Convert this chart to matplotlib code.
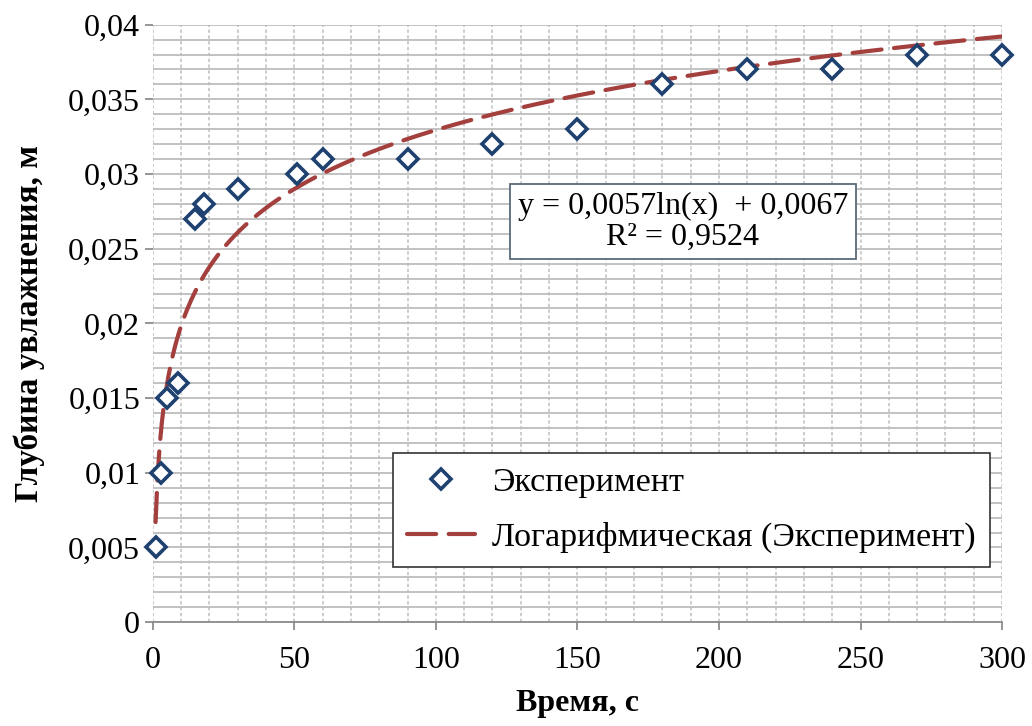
import numpy as np
import matplotlib
matplotlib.use("Agg")
import matplotlib.pyplot as plt
from matplotlib.ticker import MultipleLocator, FuncFormatter

# data
time_s = [1, 3, 5, 9, 15, 18, 30, 51, 60, 90, 120, 150, 180, 210, 240, 270, 300]
depth_m = [0.005, 0.010, 0.015, 0.016, 0.027, 0.028, 0.029, 0.030, 0.031, 0.031,
           0.032, 0.033, 0.036, 0.037, 0.037, 0.038, 0.038]
# trend line coefficients (from the equation shown on the chart)
fit_a = 0.0057
fit_b = 0.0067
fit_r2 = 0.9524

plt.rcParams['font.family'] = ['Liberation Serif', 'DejaVu Serif']

fig = plt.figure(figsize=(10.32, 7.26), dpi=100)
ax = fig.add_axes([0.148, 0.143, 0.823, 0.823])

xt = np.linspace(1, 300, 400)
yt = fit_a * np.log(xt) + fit_b
ax.plot(xt, yt, color='#A3403E', lw=3, dashes=(7, 3), dash_capstyle='round',
        label='Логарифмическая (Эксперимент)', zorder=3)
ax.plot(time_s, depth_m, linestyle='none', marker='D', markersize=10.5,
        markerfacecolor='white', markeredgecolor='#1F4170', markeredgewidth=2.6,
        label='Эксперимент', zorder=4, clip_on=False)

ax.set_xlim(0, 300)
ax.set_ylim(0, 0.04)
ax.xaxis.set_major_locator(MultipleLocator(50))
ax.xaxis.set_minor_locator(MultipleLocator(10))
ax.yaxis.set_major_locator(MultipleLocator(0.005))
ax.yaxis.set_minor_locator(MultipleLocator(0.001))


def comma(v, pos):
    s = ('%.3f' % v).rstrip('0').rstrip('.')
    return s.replace('.', ',')


ax.yaxis.set_major_formatter(FuncFormatter(comma))
ax.xaxis.set_major_formatter(FuncFormatter(lambda v, p: '%d' % v))

ax.grid(True, which='both', axis='y', color='#BDBDBD', lw=1.3, ls='-')
ax.grid(True, which='both', axis='x', color='#C4C4C4', lw=1.2, ls=(0, (2, 1.5)))
ax.set_axisbelow(True)

for s in ['top', 'right', 'left']:
    ax.spines[s].set_visible(False)
ax.spines['bottom'].set_color('#8C8C8C')
ax.spines['bottom'].set_linewidth(1.3)

ax.tick_params(axis='both', which='major', labelsize=23, color='#8C8C8C',
               length=6, width=1.3)
ax.tick_params(axis='both', which='minor', length=0)
ax.tick_params(axis='x', pad=11)
ax.tick_params(axis='y', pad=3)

ax.set_xlabel('Время, с', fontsize=23, fontweight='bold', labelpad=10)
ax.set_ylabel('Глубина увлажнения, м', fontsize=24, fontweight='bold', labelpad=17)

eq = 'y = %sln(x)  + %s\nR² = %s' % (str(fit_a).replace('.', ','),
                                      str(fit_b).replace('.', ','),
                                      str(fit_r2).replace('.', ','))
ax.text(0.624, 0.67, eq, transform=ax.transAxes, fontsize=23, ha='center', va='center',
        linespacing=1.05,
        bbox=dict(boxstyle='square,pad=0.25', facecolor='white', edgecolor='#5A6A7A', lw=1.3))

handles, labels = ax.get_legend_handles_labels()
leg = ax.legend(handles[::-1], labels[::-1], loc='upper left', bbox_to_anchor=(0.283, 0.283),
                fontsize=24.5, fancybox=False, framealpha=1, edgecolor='#333333',
                handlelength=2.0, handletextpad=0.5, labelspacing=0.7,
                borderpad=0.41, borderaxespad=0)
leg.get_frame().set_linewidth(1.2)

fig.savefig('out.png', dpi=100)
